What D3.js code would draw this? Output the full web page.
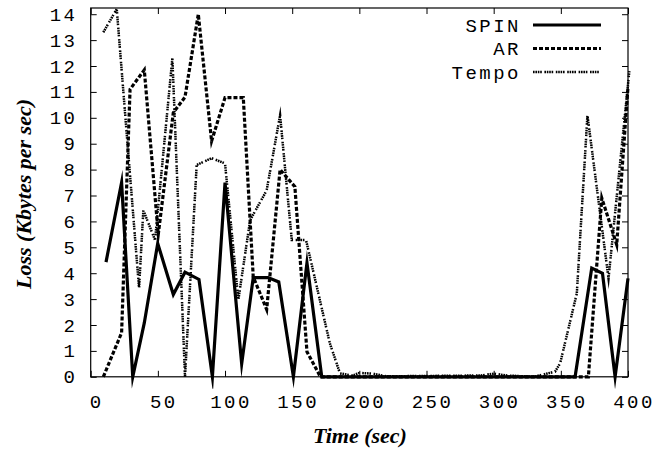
<!DOCTYPE html>
<html>
<head>
<meta charset="utf-8">
<script src="https://cdn.jsdelivr.net/npm/d3@7"></script>
<style>
  body { margin: 0; background: #fff; }
  text { fill: #000; }
</style>
</head>
<body>
<div id="chart"></div>
<script>
// loss per second for the three protocols

const spinTime = [11.4, 23, 31.3, 39.9, 49.9, 61.5, 70.2, 80.6, 90.6, 100, 112.4, 121, 132, 140, 150.9, 161, 172, 360.6, 373, 381, 390.4, 400];
const spinLoss = [4.43, 7.5, 0, 2.08, 5.15, 3.18, 4.04, 3.76, 0, 7.5, 0.5, 3.83, 3.83, 3.66, 0, 4.4, 0, 0, 4.2, 4.0, 0, 3.8];

const arTime = [9.4, 23, 29.3, 39.9, 50.3, 61.5, 70.2, 80.1, 90, 100, 113.6, 121, 131, 141, 152, 161, 171, 370.5, 380.5, 391.6, 400];
const arLoss = [0, 1.7, 11.1, 11.85, 5.5, 10.2, 10.8, 14.0, 9.1, 10.78, 10.78, 3.86, 2.6, 8.0, 7.34, 0.97, 0, 0, 6.9, 5.1, 11.2];

const tempoTime = [9.4, 19.4, 36, 39.2, 47.9, 60.8, 70.2, 78.9, 90, 100, 109.9, 118.7, 131, 141, 149.7, 160.3, 178, 185.6, 195, 200, 210, 220, 290, 300, 310, 330, 345.7, 349.5, 361.9, 369.8, 385.5, 401];
const tempoLoss = [13.3, 14.2, 3.42, 6.43, 5.28, 12.3, 0, 8.18, 8.44, 8.24, 2.97, 6.05, 7.2, 10.1, 5.28, 5.28, 1.3, 0.13, 0.05, 0.15, 0.12, 0.02, 0.05, 0.12, 0.05, 0, 0.2, 0.52, 3.22, 10.1, 3.8, 11.8];

const xTicks = [0, 50, 100, 150, 200, 250, 300, 350, 400];
const yTicks = d3.range(0, 15);

const seriesNames = ["SPIN", "AR", "Tempo"];

const drawChart = () => {
  const width = 667;
  const height = 449;
  const left = 90.7, right = 628, top = 8, bottom = 376.8;

  const xScale = d3.scaleLinear().domain([0, 400]).range([left, right]);
  const yScale = d3.scaleLinear().domain([0, 14.24]).range([bottom, top]);

  const svg = d3.select("#chart")
                .append("svg")
                .attr("width", width)
                .attr("height", height);

  const tickFont = "'Liberation Mono', 'DejaVu Sans Mono', monospace";

  // frame
  svg.append("rect")
     .attr("x", left)
     .attr("y", top)
     .attr("width", right - left)
     .attr("height", bottom - top)
     .attr("fill", "none")
     .attr("stroke", "#000")
     .attr("stroke-width", 1.2);

  // ticks on all four sides, pointing inward
  const xAxisB = d3.axisBottom(xScale).tickValues(xTicks).tickSizeInner(-6).tickSizeOuter(0).tickFormat("");
  const xAxisT = d3.axisTop(xScale).tickValues(xTicks).tickSizeInner(-6).tickSizeOuter(0).tickFormat("");
  const yAxisL = d3.axisLeft(yScale).tickValues(yTicks).tickSizeInner(-6).tickSizeOuter(0).tickFormat("");
  const yAxisR = d3.axisRight(yScale).tickValues(yTicks).tickSizeInner(-6).tickSizeOuter(0).tickFormat("");

  [[xAxisB, `translate(0,${bottom})`], [xAxisT, `translate(0,${top})`],
   [yAxisL, `translate(${left},0)`], [yAxisR, `translate(${right},0)`]].forEach(([ax, tr]) => {
    const g = svg.append("g").attr("transform", tr).call(ax);
    g.select(".domain").remove();
    g.selectAll("line").attr("stroke", "#000").attr("stroke-width", 1);
  });

  // tick labels
  svg.selectAll(".xlab")
     .data(xTicks)
     .enter()
     .append("text")
     .attr("x", (d) => xScale(d) + 6)
     .attr("y", 408)
     .attr("text-anchor", "middle")
     .attr("font-family", tickFont)
     .attr("font-size", 19)
     .attr("letter-spacing", 2.5)
     .text((d) => d);

  svg.selectAll(".ylab")
     .data(yTicks)
     .enter()
     .append("text")
     .attr("x", 77.5)
     .attr("y", (d) => yScale(d) + 6.5)
     .attr("text-anchor", "end")
     .attr("font-family", tickFont)
     .attr("font-size", 19)
     .attr("letter-spacing", 2.5)
     .text((d) => d);

  // axis titles
  svg.append("text")
     .attr("x", 360)
     .attr("y", 443)
     .attr("text-anchor", "middle")
     .attr("font-family", "'Liberation Serif', 'DejaVu Serif', serif")
     .attr("font-weight", "bold")
     .attr("font-style", "italic")
     .attr("font-size", 22)
     .text("Time (sec)");

  svg.append("text")
     .attr("transform", "translate(31,194) rotate(-90)")
     .attr("text-anchor", "middle")
     .attr("font-family", "'Liberation Serif', 'DejaVu Serif', serif")
     .attr("font-weight", "bold")
     .attr("font-style", "italic")
     .attr("font-size", 22)
     .text("Loss (Kbytes per sec)");

  // series
  const styles = [
    { time: spinTime, loss: spinLoss, width: 3.2, dash: null },
    { time: arTime, loss: arLoss, width: 3.2, dash: "4,2" },
    { time: tempoTime, loss: tempoLoss, width: 2.5, dash: "1.6,0.8,1.6,0.8,1.6,0.8,1.6,2.6" }
  ];

  const line = d3.line()
                 .x((d) => xScale(d[0]))
                 .y((d) => yScale(d[1]));

  svg.append("clipPath").attr("id", "plotclip")
     .append("rect")
     .attr("x", left - 5).attr("y", top)
     .attr("width", right - left + 10).attr("height", bottom - top + 12);

  styles.slice().reverse().forEach((s) => {
    svg.append("path")
       .attr("d", line(d3.zip(s.time, s.loss)))
       .attr("fill", "none")
       .attr("stroke", "#000")
       .attr("stroke-width", s.width)
       .attr("stroke-linejoin", "miter")
       .attr("stroke-miterlimit", 10)
       .attr("stroke-dasharray", s.dash)
       .attr("clip-path", "url(#plotclip)");
  });

  // legend
  const legendY = [25, 48.5, 72];
  seriesNames.forEach((name, i) => {
    svg.append("text")
       .attr("x", 521)
       .attr("y", legendY[i] + 6.5)
       .attr("text-anchor", "end")
       .attr("font-family", tickFont)
       .attr("font-size", 19)
       .attr("letter-spacing", 2.5)
       .text(name);
    svg.append("line")
       .attr("x1", 533).attr("x2", 601)
       .attr("y1", legendY[i]).attr("y2", legendY[i])
       .attr("stroke", "#000")
       .attr("stroke-width", styles[i].width)
       .attr("stroke-dasharray", styles[i].dash);
  });
}

drawChart();
</script>
</body>
</html>
